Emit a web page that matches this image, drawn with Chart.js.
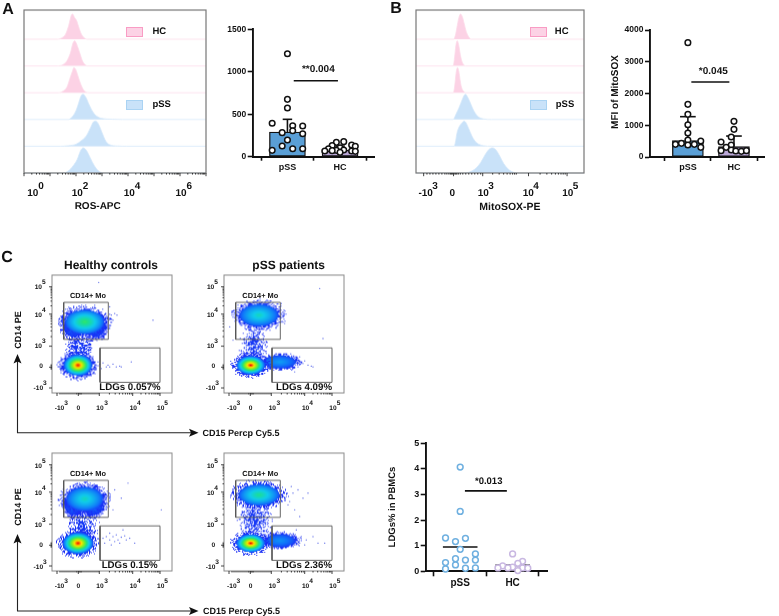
<!DOCTYPE html>
<html><head><meta charset="utf-8">
<script src="https://cdn.jsdelivr.net/npm/chart.js@4"></script>
<style>
html,body{margin:0;padding:0;background:#fff;width:779px;height:616px;overflow:hidden}
#stage{position:relative;width:779px;height:616px;font-family:"Liberation Sans",Arial,sans-serif;font-weight:700;color:#111;text-rendering:geometricPrecision;will-change:transform}
canvas{position:absolute}
.t{position:absolute;white-space:nowrap;line-height:1;transform:translate(-50%,-50%)}
.sw{position:absolute;box-sizing:border-box;border-width:1.2px;border-style:solid}
svg{position:absolute;left:0;top:0}
</style></head><body><div id="stage"></div>
<script>
/* ---------- Panel A/B histograms: x, density (peak = 1) ---------- */
const rosHc1X=[1.28,1.45,1.6,1.72,1.82,1.87,1.95,2.02,2.1,2.2,2.3,2.44];
const rosHc1Y=[0,.05,.2,.55,.95,1,.85,.75,.5,.22,.07,0];
const rosHc2X=[1.28,1.5,1.65,1.78,1.88,1.95,2.05,2.15,2.25,2.35,2.45];
const rosHc2Y=[0,.05,.2,.5,.9,1,.8,.5,.2,.05,0];
const rosHc3X=[1.32,1.5,1.65,1.76,1.86,1.92,2.0,2.08,2.18,2.3,2.48];
const rosHc3Y=[0,.06,.22,.55,.85,1,.9,.65,.35,.1,0];
const rosPss1X=[1.7,1.85,2.0,2.1,2.2,2.28,2.38,2.5,2.65,2.8,3.0,3.4,3.8];
const rosPss1Y=[0,.1,.35,.65,.95,1,.88,.6,.3,.13,.04,.01,0];
const rosPss2X=[1.4,1.7,2.0,2.2,2.4,2.55,2.68,2.76,2.88,3.0,3.15,3.3,3.6,3.95];
const rosPss2Y=[0,.02,.08,.22,.42,.72,.98,1,.85,.55,.2,.06,.01,0];
const rosPss3X=[1.5,1.7,1.9,2.05,2.18,2.28,2.4,2.55,2.7,2.85,3.05];
const rosPss3Y=[0,.08,.3,.55,.9,1,.9,.6,.3,.1,0];
const roxHc1X=[37.7,39.5,41,43,44.7,46.5,48.5,50.5,52.5,55.3];
const roxHc1Y=[0,.15,.45,.85,1,.9,.6,.3,.12,0];
const roxHc2X=[37.3,38.5,40,41.3,42.8,44.5,46,47.5,49.5];
const roxHc2Y=[0,.25,.8,1,.85,.45,.2,.07,0];
const roxHc3X=[37.5,38.8,40.3,41.7,43,44.7,46.3,48,50];
const roxHc3Y=[0,.25,.8,1,.85,.4,.15,.05,0];
const roxPss1X=[37.3,40,43,46,48.5,49.7,52,55,58,61,64,68,76];
const roxPss1Y=[0,.2,.45,.75,.97,1,.88,.62,.35,.17,.07,.02,0];
const roxPss2X=[38.3,39.5,41,43,46,48.3,50,53,56,59,63,68,76];
const roxPss2Y=[0,.15,.5,.75,.92,1,.95,.7,.42,.22,.08,.02,0];
const roxPss3X=[49,53,57,61,65,69,73,76.7,80,84,88,92,96,100,104];
const roxPss3Y=[0,.03,.1,.22,.42,.7,.93,1,.93,.68,.38,.18,.06,.01,0];
const rosMajorTicks=[0,1,2,3,4,5,6,7];
const rosMinorTicks=[.3,.48,.6,.7,.78,.85,.9,.95,1.3,1.48,1.6,1.7,1.78,1.85,1.9,1.95,2.3,2.48,2.6,2.7,2.78,2.85,2.9,2.95,3.3,3.48,3.6,3.7,3.78,3.85,3.9,3.95,4.3,4.48,4.6,4.7,4.78,4.85,4.9,4.95,5.3,5.48,5.6,5.7,5.78,5.85,5.9,5.95,6.3,6.48,6.6,6.7,6.78,6.85,6.9,6.95];
const mitoMajorTicks=[7.7,37.7,67,113,151.7];
const mitoMinorTicks=[11,14,17,20,23,26,29,31,33,34.5,35.5,36.5,39,40,41,42.5,44.5,47,50,53,56,59,62,65,77,83.5,88,91.5,94.5,97,99,100.7,124.6,131.4,136.2,140,143,145.6,147.8,149.8];

/* ---------- Bar panels ---------- */
const barCategories=['pSS','HC'];
const rosPssX=[1,1,1,.71,1.1,1.29,.9,1.1,1.29,1,.9,1.1,1.29,.71];
const rosPssV=[1213,675,573,393,365,361,283,306,271,196,126,94,94,75];
const rosHcX=[2.07,1.93,2.22,1.85,2.29,1.78,2,2.07,1.93,1.71,1.85,2.22,2.29,2];
const rosHcV=[177,169,137,130,122,94,106,79,75,67,71,67,63,51];
const rosMeans=[290,75], rosTops=[440,125];
const rosBracket=[895];
const mfiPssX=[1,1,1,1,1,1,.73,.86,1,1.14,1.28,1.28];
const mfiPssV=[3601,1659,1344,1018,756,535,399,430,378,399,504,304];
const mfiHcX=[2,2,1.94,1.72,1.94,1.83,1.72,1.94,2.04,2.16,2.27];
const mfiHcV=[1123,871,630,472,378,304,200,220,189,178,200];
const mfiMeans=[515,325], mfiTops=[1270,660];
const mfiBracket=[2362];
const ldgPssX=[1,1,.72,1.1,.91,1,1.29,.91,1.1,1.29,.72,.91,.72,1.1,1.29];
const ldgPssV=[4.07,2.34,1.3,1.29,1.16,.86,.68,.49,.44,.44,.34,.25,.09,.12,.13];
const ldgHcX=[2,2.19,2.1,1.81,2,1.72,1.91,2.19,2.29,2.1];
const ldgHcV=[.68,.39,.31,.21,.16,.13,.13,.13,.12,.03];
const ldgMeans=[.95,.23];
const ldgBracket=[3.14];

/* ---------- Flow plots, in display channels ---------- */
const flowMajorX=[5,26.3,47.3,80.7,108];
const flowMinorX=[8,10,12,14,16,18,20,22,24,25,27,28,29,30,32,34,36,38,40,42,44,46,57.4,63.2,67.4,70.7,73.4,75.6,77.5,79.2,89,93.7,97.1,99.8,102,103.8,105.4,106.8];
const flowMajorY=[5,25.7,46.7,78.7,106];
const flowMinorY=[24,25,27,28,56.3,62,66,69,71.7,74,75.7,77.3,87,91.7,95,97.6,99.8,101.6,103,104.6];
const monoGateX=[11.7,56.3,56.3,11.7,11.7], monoGateY=[53.5,53.5,90.5,90.5,53.5];
const ldgGateX=[48,108,108,48,48], ldgGateY=[10.6,10.6,45,45,10.6];
/* populations: centre x, centre y, spread x, spread y, peak density */
const hcTopPops=[[27.7,44.3,14,17,.03],[22,66,11,11,.13],[44,66,10,11,.13],[32.7,71,21,13,.54],[26,27.7,15.5,11.5,1]];
const pssTopPops=[[29.7,46,13,20,.03],[35,77.7,21,12,.42],[55.7,31,18,7,.25],[26.7,27.7,15.5,10,1]];
const hcBottomPops=[[31,46,15,17,.03],[22,66,10,11,.13],[42,66,10,11,.13],[32.7,72,20,13,.42],[26,27.7,16.5,11.5,1]];
const pssBottomPops=[[30.7,51,17,19,.03],[35,76,22,11.5,.48],[55.7,30.3,17,7,.22],[26.7,27.7,15.5,9.8,1]];
const hcTopDots=[[47.7,28.7],[51,30],[54.3,26],[61,28.7],[64.3,26],[69.3,26],[79.3,31],[56,27.7],[62.7,79.3],[57.7,67.7],[65,77.7],[101,72.7],[46.7,110.3],[49.3,24.3],[46,31],[57.7,26],[67.7,26.7],[59.3,77.7],[61,72.7],[57.7,86]];
const pssTopDots=[[74,26],[80.7,32],[87.3,26.7],[95.7,104.3],[99,54.3],[79,29.3],[84,27.7],[89,26],[59,81],[60.7,69.3],[57.3,89.3],[5.7,66],[9,52.7],[75.7,36],[70.7,21]];
const hcBottomDots=[[51,32.7],[54.3,34.3],[57.7,31],[61,34.3],[64.3,36],[66,31],[69.3,33.7],[72.7,35],[74.3,31],[77.7,32.7],[62.7,29.3],[67.7,27.7],[57.7,37.7],[52.7,27.7],[82.7,27.7],[71,41],[59.3,26],[69.3,72.7],[76,87.7],[109.3,61],[62.7,81],[57.7,74.3],[61,61]];
const pssBottomDots=[[69,77.7],[74,81],[79,72.7],[84,77.7],[65.7,69.3],[70.7,61],[75.7,54.3],[72.3,41],[77.3,34.3],[82.3,31],[75.7,27.7],[80.7,26],[89,34.3],[94,27.7],[100.7,27.7],[70.7,26],[74,32.7],[62.3,74.3],[64,66],[67.3,84.3]];

/* ---------- helpers ---------- */
Chart.defaults.animation=false;
Chart.defaults.responsive=false;
Chart.defaults.devicePixelRatio=1;
Chart.defaults.font.family='"Liberation Sans",Arial,sans-serif';
const stage=document.getElementById('stage');
const PINK_F='#fcd2e5',PINK_L='#fcdcea',BLUE_F='#c9e2f9',BLUE_L='#d6e9fa';
function text(s,x,y,size,rot,color){const d=document.createElement('div');d.className='t';d.textContent=s;
 d.style.left=x+'px';d.style.top=y+'px';d.style.fontSize=size+'px';
 if(rot)d.style.transform='translate(-50%,-50%) rotate(-90deg)';
 if(color)d.style.color=color;stage.appendChild(d);}
function pow(base,sup,x,y,size,dx,dy){text(base,x,y,size);if(sup!==''&&sup!==undefined)text(sup,x+dx,y-dy,size);}
function swatch(x,y,w,h,f,b){const d=document.createElement('div');d.className='sw';
 d.style.cssText+=`left:${x}px;top:${y}px;width:${w}px;height:${h}px;background:${f};border-color:${b}`;stage.appendChild(d);}
function canvas(l,t,w,h){const c=document.createElement('canvas');c.width=w;c.height=h;c.style.left=l+'px';c.style.top=t+'px';
 c.style.width=w+'px';c.style.height=h+'px';stage.appendChild(c);return c;}
function zipPts(xs,ys){return xs.map((x,i)=>({x,y:ys[i]}));}

const framePlugin={id:'frame',afterDraw(ch,_,o){
 const a=ch.chartArea,c=ch.ctx;c.save();c.strokeStyle=o.color||'#777';c.lineWidth=o.width||1;
 c.strokeRect(a.left,a.top,a.width,a.height);
 c.strokeStyle='#111';c.lineWidth=.8;
 for(const id of ['x','y']){const s=ch.scales[id];if(!s)continue;
  (o[id+'Minor']||[]).forEach(v=>tick(c,s,id,v,o.minorLen||1.5,a));
  (o[id+'Major']||[]).forEach(v=>tick(c,s,id,v,o.majorLen||3,a));}
 c.restore();}};
function tick(c,s,id,v,len,a){const p=s.getPixelForValue(v);c.beginPath();
 if(id==='x'){c.moveTo(p,a.bottom);c.lineTo(p,a.bottom+len);}else{c.moveTo(a.left,p);c.lineTo(a.left-len,p);}c.stroke();}

/* ---------- histogram panels ---------- */
function ridge(l,t,w,h,xmin,xmax,rows,major,minor){
 const datasets=rows.map((r,i)=>{const base=5-i;const f=r[2]==='hc';
  const pts=[{x:xmin,y:base}].concat(r[0].map((x,k)=>({x,y:base+r[1][k]*.94})),[{x:xmax,y:base}]);
  return {data:pts,showLine:true,pointRadius:0,borderWidth:.8,borderColor:f?PINK_L:BLUE_L,backgroundColor:f?PINK_F:BLUE_F,
   fill:{value:base},cubicInterpolationMode:'monotone',clip:false};});
 new Chart(canvas(l-6,t-6,w+12,h+12),{type:'scatter',data:{datasets},plugins:[framePlugin],options:{
  layout:{padding:6},plugins:{legend:{display:false},tooltip:{enabled:false},
   frame:{color:'#777',width:1.2,xMajor:major,xMinor:minor,majorLen:3.2,minorLen:1.6}},
  scales:{x:{type:'linear',min:xmin,max:xmax,display:false},y:{type:'linear',min:0,max:6.09,display:false}}}});
}
const hc='hc',ps='pss';
ridge(24,10,182,162.7,0,7,[[rosHc1X,rosHc1Y,hc],[rosHc2X,rosHc2Y,hc],[rosHc3X,rosHc3Y,hc],[rosPss1X,rosPss1Y,ps],[rosPss2X,rosPss2Y,ps],[rosPss3X,rosPss3Y,ps]],rosMajorTicks,rosMinorTicks);
ridge(415.7,10,168.7,162.7,0,168.7,[[roxHc1X,roxHc1Y,hc],[roxHc2X,roxHc2Y,hc],[roxHc3X,roxHc3Y,hc],[roxPss1X,roxPss1Y,ps],[roxPss2X,roxPss2Y,ps],[roxPss3X,roxPss3Y,ps]],mitoMajorTicks,mitoMinorTicks);

/* ---------- bar / dot panels ---------- */
function seg(xs,ys,color,width){return {type:'scatter',showLine:true,data:zipPts(xs,ys),borderColor:color||'#111',borderWidth:width||1.6,pointRadius:0,clip:false,fill:false,tension:0};}
function dots(xs,ys,fill,stroke,r,w){return {type:'scatter',data:zipPts(xs,ys),pointRadius:r,pointBorderWidth:w,pointBackgroundColor:fill,pointBorderColor:stroke,backgroundColor:fill,borderColor:stroke,clip:false};}
function catChart(o){
 new Chart(canvas(o.l,o.t,o.w,o.h),{type:'bar',data:{datasets:o.datasets},options:{
  layout:{padding:{top:o.top,left:0,right:0,bottom:0}},
  plugins:{legend:{display:false},tooltip:{enabled:false}},
  scales:{
   x:{type:'linear',min:o.xmin,max:o.xmax,offset:false,
     afterBuildTicks:s=>{s.ticks=[{value:1},{value:2}];},
     afterFit:s=>{s.height=o.bottom;},
     grid:{drawOnChartArea:false,drawTicks:true,tickLength:o.xTick||4,tickWidth:1.6,tickColor:'#111'},
     border:{color:'#111',width:o.axisW||1.9},
     ticks:{autoSkip:false,maxRotation:0,padding:1,color:'#111',font:{size:o.xFont||9,weight:'bold'},callback:v=>barCategories[v-1]}},
   y:{type:'linear',min:0,max:o.ymax,
     afterBuildTicks:s=>{s.ticks=o.yticks.map(v=>({value:v}));},
     afterFit:s=>{s.width=o.axisX;},
     grid:{drawOnChartArea:false,drawTicks:true,tickLength:5,tickWidth:1.6,tickColor:'#111'},
     border:{color:'#111',width:o.axisW||1.9},
     ticks:{padding:1.5,color:'#111',font:{size:o.yFont||8.5,weight:'bold'},callback:v=>String(v)}}}}});
}
function barSet(mean,thick){return {type:'bar',data:[{x:1,y:mean[0]},{x:2,y:mean[1]}],barThickness:thick,backgroundColor:['#5a9fd6','#bba8d8'],borderColor:'#111',borderWidth:1.3,borderSkipped:false};}
function errSet(i,mean,top,cap){const c=i+1;return [seg([c,c],[mean[i],top[i]]),seg([c-cap,c+cap],[top[i],top[i]])];}
const W='#fff',K='#111';
catChart({l:210,t:20,w:170,h:160,axisX:42.7,top:9.3,bottom:23.3,xmin:1-36.3/55,xmax:2+36/55,ymax:1500,yticks:[0,500,1000,1500],
 datasets:[dots(rosPssX,rosPssV,W,K,2.8,1.5),dots(rosHcX,rosHcV,W,K,2.8,1.5),
  seg([1.12,1.96],[rosBracket[0],rosBracket[0]]),
  ...errSet(0,rosMeans,rosTops,.09),...errSet(1,rosMeans,rosTops,.09),barSet(rosMeans,36)]});
catChart({l:600,t:20,w:170,h:160,axisX:50,top:10,bottom:23,xmin:1-39.7/48.3,xmax:2+32/48.3,ymax:4000,yticks:[0,1000,2000,3000,4000],
 datasets:[dots(mfiPssX,mfiPssV,W,K,2.8,1.5),dots(mfiHcX,mfiHcV,W,K,2.8,1.5),
  seg([1.075,1.9],[mfiBracket[0],mfiBracket[0]]),
  ...errSet(0,mfiMeans,mfiTops,.17),...errSet(1,mfiMeans,mfiTops,.17),barSet(mfiMeans,31)]});
catChart({l:385,t:433,w:168,h:163,axisX:40.7,top:10.3,bottom:24.7,xmin:1-36/54.7,xmax:2+36.4/54.7,ymax:5,yticks:[0,1,2,3,4,5],xFont:10,yFont:9,xTick:5,
 datasets:[dots(ldgPssX,ldgPssV,W,'#6fb0e0',2.9,1.5),dots(ldgHcX,ldgHcV,W,'#c9b8e2',2.9,1.5),
  seg([1-.33,1+.33],[ldgMeans[0],ldgMeans[0]]),seg([2-.33,2+.33],[ldgMeans[1],ldgMeans[1]]),
  seg([1.09,1.89],[ldgBracket[0],ldgBracket[0]])]});

/* ---------- flow plots ---------- */
const JET=[[0,[26,46,245]],[.15,[16,116,250]],[.35,[16,204,235]],[.5,[32,226,130]],[.65,[130,240,32]],[.8,[250,226,0]],[.9,[255,112,0]],[1,[226,0,0]]];
function jet(v){for(let i=1;i<JET.length;i++){if(v<=JET[i][0]){const a=JET[i-1],b=JET[i],t=(v-a[0])/(b[0]-a[0]);
  return a[1].map((q,k)=>q+(b[1][k]-q)*t);}}return JET[JET.length-1][1];}
function grain(x,y,seed){let h=(x*374761393+y*668265263+seed*2147483)|0;h=Math.imul(h^(h>>>13),1274126177);h^=h>>>16;h=Math.imul(h,2246822519);h^=h>>>13;return (h>>>0)/4294967296;}
function sprite(rx,ry,peak,seed){
 const w=Math.ceil(rx*2.9),h=Math.ceil(ry*2.9),c=document.createElement('canvas');c.width=w;c.height=h;
 const g=c.getContext('2d'),im=g.createImageData(w,h),sparse=peak<.1,fall=peak>.8?.85:.6;
 for(let y=0;y<h;y++)for(let x=0;x<w;x++){
  const d=Math.hypot((x-w/2+.5)/rx,(y-h/2+.5)/ry);
  const p=sparse?Math.max(0,(1.15-d)*.8):(d<.92?1:Math.max(0,(1.38-d)/.46*.7));
  if(grain(x,y,seed)>=p)continue;
  const col=jet(peak*Math.pow(Math.max(0,1-d/.95),fall)),i=(y*w+x)*4;
  im.data[i]=col[0];im.data[i+1]=col[1];im.data[i+2]=col[2];im.data[i+3]=255;}
 g.putImageData(im,0,0);return c;}
const softPlugin={id:'soft',beforeDatasetDraw(ch,a){if(ch.data.datasets[a.index].soft){ch.ctx.save();ch.ctx.filter='blur(0.6px)';ch._soft=true;}},
 afterDatasetDraw(ch){if(ch._soft){ch.ctx.restore();ch._soft=false;}}};
function flow(L,B,pops,sparse,label,seed){
 const T=B-117.7,pad=8,sprites=pops.map((p,i)=>sprite(p[2],p[3],p[4],seed+i));
 const datasets=[
  seg(monoGateX,monoGateY,'#555',.9),seg(ldgGateX,ldgGateY,'#555',.9),
  ...pops.slice().reverse().map((p,i)=>{const k=pops.length-1-i;return {soft:true,data:[{x:p[0],y:p[1]}],pointRadius:1,pointStyle:sprites[k],clip:true};}),
  {soft:true,data:sparse.map(p=>({x:p[0],y:p[1]})),pointRadius:.65,pointBorderWidth:0,pointBackgroundColor:'#5a68e8',backgroundColor:'#5a68e8',pointStyle:'circle'}];
 new Chart(canvas(L-pad,T-pad,120+pad*2,117.7+pad*2),{type:'scatter',data:{datasets},plugins:[softPlugin,framePlugin],options:{
  layout:{padding:pad},plugins:{legend:{display:false},tooltip:{enabled:false},
   frame:{color:'#8a8a8a',width:1,xMajor:flowMajorX,xMinor:flowMinorX,yMajor:flowMajorY,yMinor:flowMinorY,majorLen:3,minorLen:1.5}},
  scales:{x:{type:'linear',min:0,max:120,display:false},y:{type:'linear',min:0,max:117.7,display:false}}}});
 const s=6.6,X=B+16;
 pow('-10','3',L+7.5,X,s,6.5,5);pow('0','',L+26.3,X,s);pow('10','3',L+48,X,s,6,5);pow('10','4',L+81.3,X,s,5.5,5);pow('10','5',L+108.7,X,s,5.5,5);
 pow('10','5',L-13.7,B-104.4,s,5.5,5);pow('10','4',L-13.7,B-77,s,5.5,5);pow('10','3',L-13.7,B-45.4,s,5.5,5);
 pow('0','',L-11,B-25.4,s);pow('-10','3',L-13.7,B-3.4,s,6.5,5);
 text('CD14+ Mo',L+36,B-97,7.4);
 text(label[0],L+label[1],B-4.9,9.7);
}
flow(52,392.7,hcTopPops,hcTopDots,['LDGs 0.057%',78],1);
flow(224.3,392.7,pssTopPops,pssTopDots,['LDGs 4.09%',79.7],7);
flow(52,571,hcBottomPops,hcBottomDots,['LDGs 0.15%',77.7],13);
flow(224.3,571,pssBottomPops,pssBottomDots,['LDGs 2.36%',79.7],19);

/* ---------- arrows ---------- */
const NS='http://www.w3.org/2000/svg',svg=document.createElementNS(NS,'svg');
svg.setAttribute('width',779);svg.setAttribute('height',616);
svg.innerHTML=`<g fill="none" stroke="#222" stroke-width="1.1">
<path d="M17.5 360V432.7H194"/><path d="M17.5 540V611H194"/></g>
<g fill="#111"><path d="M17.5 354l-4 9.5 4-2 4 2z"/><path d="M17.5 534l-4 9.5 4-2 4 2z"/>
<path d="M198.5 432.7l-9.5-4 2 4-2 4z"/><path d="M198.5 611l-9.5-4 2 4-2 4z"/></g>`;
stage.appendChild(svg);

/* ---------- text ---------- */
text('A',8,10,16);text('B',396,9,16);text('C',7,258,16);
swatch(126.3,27,17,10.4,PINK_F,'#f99cc4');swatch(126.3,100,17,10.4,BLUE_F,'#aad3f3');
swatch(530,27,17,10.4,PINK_F,'#f99cc4');swatch(530,100,17,10.4,BLUE_F,'#aad3f3');
text('HC',159.3,31.7,9.5);text('pSS',161.7,105,9.5);text('HC',561.7,31.7,9.5);text('pSS',565,105,9.5);
const s1=10;
[[32.7,'0'],[77.3,'2'],[129.3,'4'],[181,'6']].forEach(a=>pow('10',a[1],a[0],193.5,s1,8.3,7));
pow('-10','3',425.7,193.5,s1,9.3,7);pow('0','',452.3,193.5,s1);
[[483.3,'3'],[528.3,'4'],[567.7,'5']].forEach(a=>pow('10',a[1],a[0],193.5,s1,7.8,7));
text('ROS-APC',97.7,206.7,10);text('MitoSOX-PE',510,206.7,10.5);
text('**0.004',318.3,70,10);text('*0.045',713.3,71.7,10);text('*0.013',488.7,482.3,9.5);
text('MFI of MitoSOX',615.7,91.7,10,true);text('LDGs% in PBMCs',393,507,9.5,true);
text('Healthy controls',111,265,12);text('pSS patients',288.7,265,12);
text('CD14 PE',18.3,330,9,true);text('CD14 PE',18.3,506.7,9,true);
text('CD15 Percp Cy5.5',241,432.7,9);text('CD15 Percp Cy5.5',241.5,611,9);
</script></body></html>
